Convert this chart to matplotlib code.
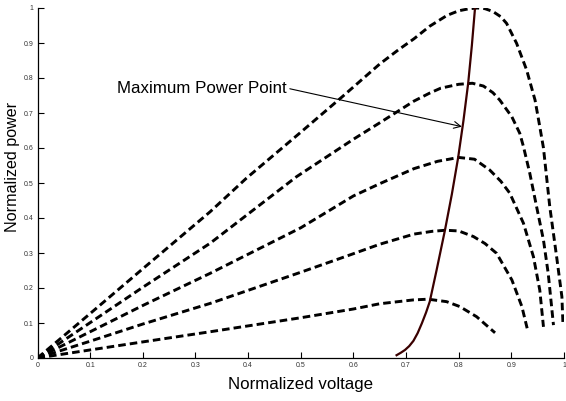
import matplotlib.pyplot as plt

plt.rcParams['font.family'] = ['Liberation Sans', 'DejaVu Sans']

# P-V curves at five irradiance levels (normalized)
v1 = [0, 0.1, 0.2, 0.328, 0.397, 0.5, 0.58, 0.65, 0.685, 0.715, 0.745, 0.778, 0.80, 0.82,
      0.836, 0.85, 0.865, 0.88, 0.891, 0.910, 0.929, 0.945, 0.954, 0.961, 0.973, 0.986,
      0.996, 0.998]
p1 = [0, 0.127, 0.255, 0.418, 0.514, 0.645, 0.748, 0.840, 0.880, 0.912, 0.948, 0.979, 0.992,
      0.998, 1.0, 0.998, 0.99, 0.975, 0.956, 0.899, 0.823, 0.737, 0.661, 0.600, 0.432,
      0.289, 0.175, 0.099]

v2 = [0, 0.1, 0.2, 0.328, 0.492, 0.60, 0.65, 0.715, 0.745, 0.766, 0.80, 0.826, 0.847,
      0.865, 0.878, 0.901, 0.916, 0.923, 0.935, 0.948, 0.961, 0.970, 0.980]
p2 = [0, 0.101, 0.202, 0.328, 0.518, 0.625, 0.672, 0.734, 0.757, 0.771, 0.782, 0.785,
      0.777, 0.758, 0.737, 0.689, 0.642, 0.604, 0.528, 0.432, 0.337, 0.242, 0.094]

v3 = [0, 0.1, 0.2, 0.328, 0.5, 0.60, 0.65, 0.715, 0.76, 0.80, 0.83, 0.859, 0.88, 0.897,
      0.923, 0.942, 0.954, 0.961]
p3 = [0, 0.075, 0.150, 0.242, 0.372, 0.463, 0.498, 0.541, 0.562, 0.573, 0.568, 0.537,
      0.505, 0.471, 0.385, 0.289, 0.194, 0.089]

v4 = [0, 0.1, 0.2, 0.328, 0.5, 0.60, 0.65, 0.715, 0.75, 0.775, 0.80, 0.828, 0.85, 0.872,
      0.901, 0.920, 0.930]
p4 = [0, 0.048, 0.097, 0.156, 0.245, 0.298, 0.325, 0.354, 0.362, 0.365, 0.363, 0.347,
      0.327, 0.299, 0.223, 0.147, 0.085]

v5 = [0, 0.1, 0.2, 0.328, 0.5, 0.60, 0.65, 0.714, 0.742, 0.777, 0.802, 0.834, 0.869]
p5 = [0, 0.023, 0.046, 0.075, 0.115, 0.140, 0.155, 0.166, 0.168, 0.161, 0.147, 0.118, 0.072]

# locus of maximum power points
mpp_v = [0.682, 0.690, 0.698, 0.706, 0.714, 0.722, 0.730, 0.738, 0.745, 0.758, 0.774,
         0.787, 0.799, 0.809, 0.818, 0.825, 0.831]
mpp_p = [0.008, 0.015, 0.023, 0.034, 0.049, 0.071, 0.099, 0.130, 0.161, 0.251, 0.366,
         0.468, 0.573, 0.678, 0.785, 0.893, 1.0]

ticks = [0, 0.1, 0.2, 0.3, 0.4, 0.5, 0.6, 0.7, 0.8, 0.9, 1]
tick_labels = ['0', '0.1', '0.2', '0.3', '0.4', '0.5', '0.6', '0.7', '0.8', '0.9', '1']

fig = plt.figure(figsize=(5.66, 4.01), dpi=100)
ax = fig.add_axes([37.5 / 566, 43 / 401, 526.5 / 566, 350 / 401])

for v, p in [(v1, p1), (v2, p2), (v3, p3), (v4, p4), (v5, p5)]:
    ax.plot(v, p, color='black', linewidth=2.1, dashes=(2.6, 1.4))

ax.plot(mpp_v, mpp_p, color='#3a0000', linewidth=1.6)

ax.annotate('Maximum Power Point', xy=(0.806, 0.661), xytext=(0.474, 0.771),
            ha='right', va='center', fontsize=12.2,
            arrowprops=dict(arrowstyle='->', color='black', lw=0.8,
                            relpos=(1, 0.5), shrinkA=0, shrinkB=0))

ax.set_xlim(0, 1)
ax.set_ylim(0, 1)
ax.set_xticks(ticks)
ax.set_xticklabels(tick_labels)
ax.set_yticks(ticks)
ax.set_yticklabels(tick_labels)
ax.tick_params(direction='in', length=4, width=0.8, labelsize=5, labelcolor='#333333', pad=3)
ax.spines['top'].set_visible(False)
ax.spines['right'].set_visible(False)
ax.spines['left'].set_linewidth(0.9)
ax.spines['bottom'].set_linewidth(0.9)

fig.text(301 / 566, 1 - 384 / 401, 'Normalized voltage', ha='center', va='center', fontsize=12.2)
fig.text(13 / 566, 1 - 167 / 401, 'Normalized power', ha='center', va='center',
         rotation=90, fontsize=11.6)

fig.savefig('out.png', dpi=100)
